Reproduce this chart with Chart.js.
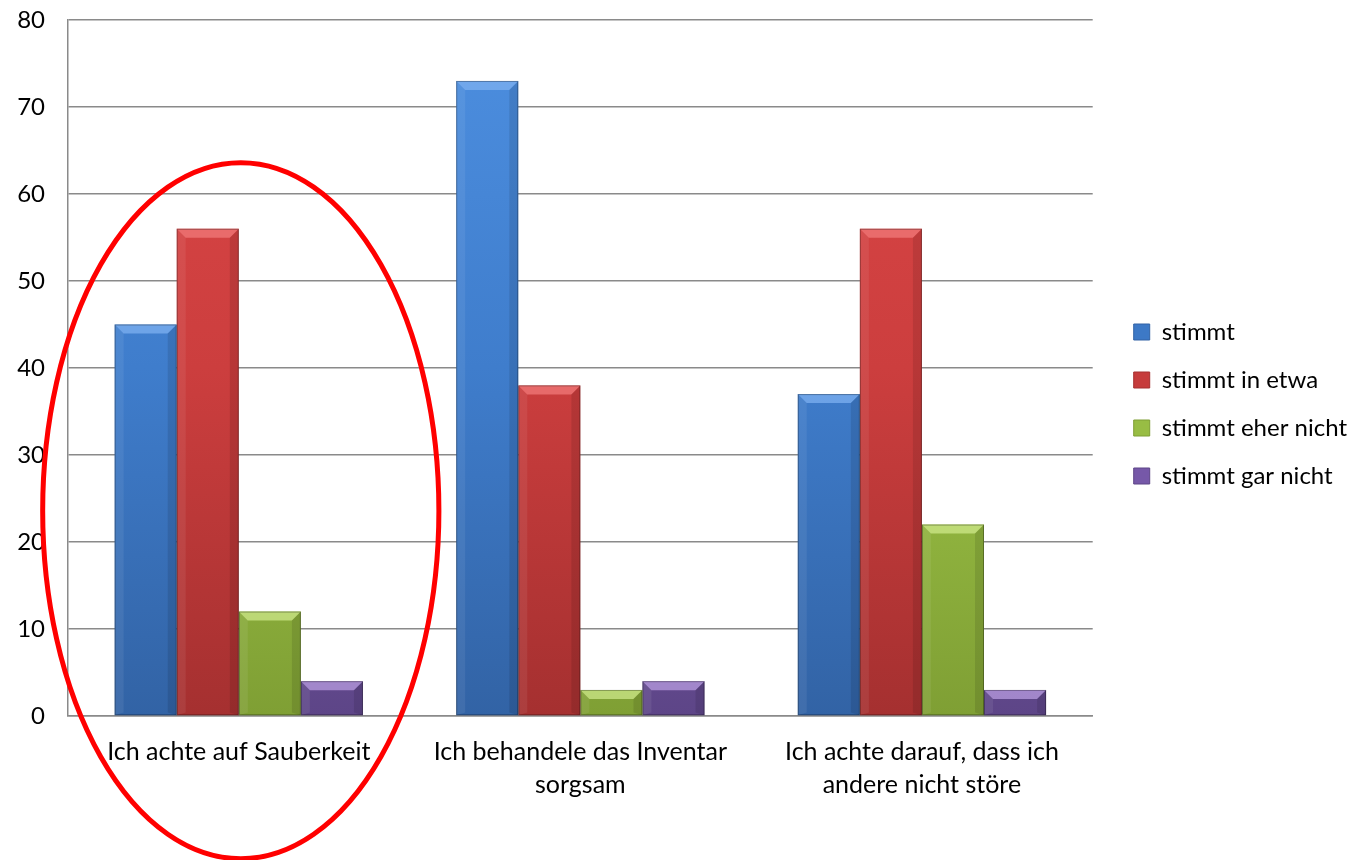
<!DOCTYPE html>
<html>
<head>
<meta charset="utf-8">
<script src="https://cdn.jsdelivr.net/npm/chart.js@4.4.0/dist/chart.umd.min.js"></script>
<style>
html,body{margin:0;padding:0;background:#fff;}
#wrap{width:1355px;height:860px;position:relative;}
</style>
</head>
<body>
<div id="wrap"><canvas id="c"></canvas></div>
<script>
const categories = [
  'Ich achte auf Sauberkeit',
  ['Ich behandele das Inventar', 'sorgsam'],
  ['Ich achte darauf, dass ich', 'andere nicht störe']
];
const seriesNames = ['stimmt', 'stimmt in etwa', 'stimmt eher nicht', 'stimmt gar nicht'];
const stimmt = [45, 73, 37];
const stimmtInEtwa = [56, 38, 56];
const stimmtEherNicht = [12, 3, 22];
const stimmtGarNicht = [4, 4, 3];
const yTicks = [0, 10, 20, 30, 40, 50, 60, 70, 80];

const palette = [
  {top:'#4d8fe0', mid:'#3f7dcc', bot:'#3263a5', light:'#7db0f0', solid:'#3d79c6'},
  {top:'#dc4747', mid:'#cc3e3e', bot:'#a53030', light:'#f07a7a', solid:'#c63c3c'},
  {top:'#acd255', mid:'#9cc246', bot:'#7f9f34', light:'#cde88a', solid:'#98bd44'},
  {top:'#9073c0', mid:'#7b5fae', bot:'#5d4587', light:'#b89ce0', solid:'#7658a8'}
];
const FONT = 'Lato, "Open Sans", sans-serif';

function gradFor(i){
  return (ctx) => {
    const ch = ctx.chart; const a = ch.chartArea;
    if (!a) return palette[i].solid;
    const g = ch.ctx.createLinearGradient(0, a.top, 0, a.bottom);
    g.addColorStop(0, palette[i].top);
    g.addColorStop(0.5, palette[i].mid);
    g.addColorStop(1, palette[i].bot);
    return g;
  };
}

const bevelPlugin = {
  id: 'bevel',
  afterDatasetsDraw(chart){
    const ctx = chart.ctx;
    chart.data.datasets.forEach((ds, di) => {
      const meta = chart.getDatasetMeta(di);
      meta.data.forEach(bar => {
        const x0 = bar.x - bar.width/2, x1 = bar.x + bar.width/2;
        const y0 = bar.y, y1 = bar.base;
        const h = y1 - y0;
        const b = Math.min(9, h/2);
        ctx.save();
        ctx.beginPath();
        ctx.moveTo(x0, y0); ctx.lineTo(x1, y0); ctx.lineTo(x1-b, y0+b); ctx.lineTo(x0+b, y0+b); ctx.closePath();
        ctx.fillStyle = palette[di].light; ctx.globalAlpha = 0.75; ctx.fill();
        ctx.beginPath();
        ctx.moveTo(x0, y0); ctx.lineTo(x0+b, y0+b); ctx.lineTo(x0+b, y1-b*0.3); ctx.lineTo(x0, y1); ctx.closePath();
        ctx.fillStyle = '#ffffff'; ctx.globalAlpha = 0.07; ctx.fill();
        ctx.beginPath();
        ctx.moveTo(x1, y0); ctx.lineTo(x1-b, y0+b); ctx.lineTo(x1-b, y1-b*0.3); ctx.lineTo(x1, y1); ctx.closePath();
        ctx.fillStyle = '#000000'; ctx.globalAlpha = 0.1; ctx.fill();
        ctx.globalAlpha = 0.3; ctx.strokeStyle = '#000'; ctx.lineWidth = 1;
        ctx.strokeRect(x0+0.5, y0+0.5, bar.width-1, h-1);
        ctx.restore();
      });
    });
  }
};

// red ellipse annotation around the first category
const ellipseNote = {categoryIndex: 0, centerValue: 23.6, radiusValue: 40, radiusCategories: 0.58};
const ellipsePlugin = {
  id: 'ellipseNote',
  afterDraw(chart){
    const xs = chart.scales.x, ys = chart.scales.y;
    const cx = xs.getPixelForValue(ellipseNote.categoryIndex) + 2;
    const cy = ys.getPixelForValue(ellipseNote.centerValue);
    const catW = (xs.right - xs.left) / categories.length;
    const rx = catW * ellipseNote.radiusCategories;
    const ry = Math.abs(ys.getPixelForValue(0) - ys.getPixelForValue(ellipseNote.radiusValue));
    const ctx = chart.ctx;
    ctx.save();
    ctx.beginPath();
    ctx.ellipse(cx, cy, rx, ry, 0, 0, Math.PI*2);
    ctx.strokeStyle = '#ff0000'; ctx.lineWidth = 5;
    ctx.stroke();
    ctx.restore();
  }
};

const legendShift = {
  id: 'legendShift',
  afterLayout(chart){
    const L = chart.legend;
    L.left += 17; L.right += 17;
    L.top -= 16; L.bottom -= 16;
  }
};

const values = [stimmt, stimmtInEtwa, stimmtEherNicht, stimmtGarNicht];
new Chart(document.getElementById('c'), {
  type: 'bar',
  data: {
    labels: categories,
    datasets: seriesNames.map((n, i) => ({
      label: n,
      data: values[i],
      backgroundColor: gradFor(i),
      borderWidth: 0,
      categoryPercentage: 0.727,
      barPercentage: 1.0
    }))
  },
  options: {
    responsive: true,
    maintainAspectRatio: false,
    animation: false,
    layout: {padding: {top: 20, right: 15, bottom: 40, left: 0}},
    plugins: {
      tooltip: {enabled: false},
      legend: {
        position: 'right',
        labels: {
          boxWidth: 16, boxHeight: 16, padding: 24,
          color: '#000',
          font: {family: FONT, size: 24},
          generateLabels(chart){
            return seriesNames.map((n, i) => ({
              text: n, fillStyle: palette[i].solid, strokeStyle: palette[i].bot,
              lineWidth: 1, hidden: false, datasetIndex: i
            }));
          }
        }
      }
    },
    scales: {
      x: {
        grid: {display: false, drawTicks: false},
        border: {display: true, color: '#8a8a8a', width: 1.5},
        ticks: {color: '#000', font: {family: FONT, size: 25, lineHeight: 1.32}, padding: 19, maxRotation: 0, autoSkip: false}
      },
      y: {
        min: 0, max: 80,
        afterBuildTicks(scale){ scale.ticks = yTicks.map(v => ({value: v})); },
        afterFit(scale){ scale.width = 68; scale.paddingTop = 0; scale.paddingBottom = 0; },
        grid: {color: '#8a8a8a', lineWidth: 1.5, drawTicks: false},
        border: {display: true, color: '#8a8a8a', width: 1.5},
        ticks: {color: '#000', font: {family: FONT, size: 24}, padding: 23}
      }
    }
  },
  plugins: [bevelPlugin, ellipsePlugin, legendShift]
});
</script>
</body>
</html>
